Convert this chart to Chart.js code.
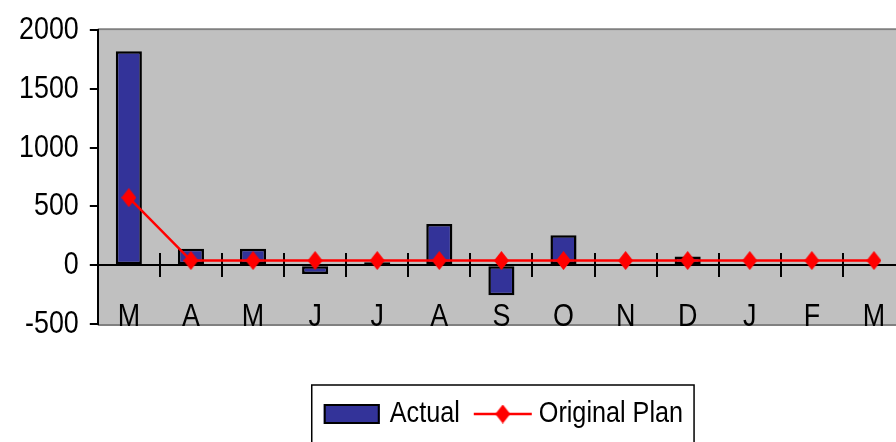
<!DOCTYPE html>
<html>
<head>
<meta charset="utf-8">
<script src="https://cdn.jsdelivr.net/npm/chart.js@4/dist/chart.umd.min.js"></script>
<style>
  html, body { margin: 0; padding: 0; background: #ffffff; overflow: hidden; }
  #wrap { width: 906px; height: 442px; }
</style>
</head>
<body>
<div id="wrap"><canvas id="chart" width="906" height="442"></canvas></div>
<script>
// Monthly figures, March through March
const months = ['M', 'A', 'M', 'J', 'J', 'A', 'S', 'O', 'N', 'D', 'J', 'F', 'M'];
const actual = [1820, 140, 140, -75, 25, 350, -255, 255, 0, 75, 0, 0, 0];
const originalPlan = [575, 40, 40, 40, 40, 40, 40, 40, 40, 40, 40, 40, 40];
const yTicks = [-500, 0, 500, 1000, 1500, 2000];
const seriesNames = ['Actual', 'Original Plan'];

const FONT = '"Liberation Sans", Arial, sans-serif';
const BAR_FILL = '#333399';
const PLAN_RED = '#ff0000';
const NARROW = 0.84; // horizontal squeeze for a narrow sans look

const canvas = document.getElementById('chart');
const ctx2d = canvas.getContext('2d');

// Narrow text: squeeze glyphs horizontally around their anchor point,
// and report the matching width so layout stays consistent.
(function (c) {
  const fill = c.fillText.bind(c);
  const measure = c.measureText.bind(c);
  c.fillText = function (text, x, y, maxWidth) {
    c.save();
    c.translate(x, y);
    c.scale(NARROW, 1);
    if (maxWidth !== undefined) fill(text, 0, 0, maxWidth / NARROW);
    else fill(text, 0, 0);
    c.restore();
  };
  c.measureText = function (text) {
    const m = measure(text);
    return {
      width: m.width * NARROW,
      actualBoundingBoxLeft: m.actualBoundingBoxLeft * NARROW,
      actualBoundingBoxRight: m.actualBoundingBoxRight * NARROW,
      actualBoundingBoxAscent: m.actualBoundingBoxAscent,
      actualBoundingBoxDescent: m.actualBoundingBoxDescent,
      fontBoundingBoxAscent: m.fontBoundingBoxAscent,
      fontBoundingBoxDescent: m.fontBoundingBoxDescent
    };
  };
})(ctx2d);

// Diamond marker used for the plan line
const diamond = document.createElement('canvas');
diamond.width = 15;
diamond.height = 19;
(function () {
  const g = diamond.getContext('2d');
  g.fillStyle = PLAN_RED;
  g.beginPath();
  g.moveTo(7.5, 0);
  g.lineTo(15, 9.5);
  g.lineTo(7.5, 19);
  g.lineTo(0, 9.5);
  g.closePath();
  g.fill();
})();

// Grey plot area with darker top/bottom edges
const plotBackground = {
  id: 'plotBackground',
  beforeDraw(chart) {
    const { ctx, chartArea: a } = chart;
    ctx.save();
    ctx.fillStyle = '#c0c0c0';
    ctx.fillRect(a.left, a.top, a.right - a.left, a.bottom - a.top);
    ctx.strokeStyle = '#808080';
    ctx.lineWidth = 2;
    ctx.beginPath();
    ctx.moveTo(a.left, a.top - 1);
    ctx.lineTo(a.right, a.top - 1);
    ctx.moveTo(a.left, a.bottom + 1);
    ctx.lineTo(a.right, a.bottom + 1);
    ctx.stroke();
    ctx.restore();
  }
};

// Framed legend below the plot
const framedLegend = {
  id: 'framedLegend',
  afterDraw(chart) {
    const { ctx, chartArea: a } = chart;
    const ds = chart.data.datasets;
    ctx.save();
    ctx.font = '30px ' + FONT;
    ctx.textBaseline = 'middle';
    ctx.textAlign = 'left';
    const w1 = ctx.measureText(ds[0].label).width;
    const w2 = ctx.measureText(ds[1].label).width;
    const boxW = 56, lineW = 58;
    const total = boxW + 10 + w1 + 14 + lineW + 7 + w2;
    const cx = (a.left + a.right) / 2 + 2;
    const cy = a.bottom + 90;
    let x = cx - total / 2;

    ctx.strokeStyle = '#000';
    ctx.lineWidth = 1.5;
    ctx.strokeRect(x - 12, a.bottom + 61, total + 23, 120);

    ctx.fillStyle = BAR_FILL;
    ctx.fillRect(x, cy - 10, boxW, 20);
    ctx.lineWidth = 2;
    ctx.strokeRect(x + 1, cy - 9, boxW - 2, 18);
    x += boxW + 10;
    ctx.fillStyle = '#000';
    ctx.fillText(ds[0].label, x, cy);
    x += w1 + 14;

    ctx.strokeStyle = PLAN_RED;
    ctx.lineWidth = 2.5;
    ctx.beginPath();
    ctx.moveTo(x, cy);
    ctx.lineTo(x + lineW, cy);
    ctx.stroke();
    ctx.drawImage(diamond, x + lineW / 2 - diamond.width / 2, cy - diamond.height / 2);
    x += lineW + 7;
    ctx.fillStyle = '#000';
    ctx.fillText(ds[1].label, x, cy);
    ctx.restore();
  }
};

new Chart(ctx2d, {
  type: 'bar',
  data: {
    labels: months,
    datasets: [
      {
        type: 'bar',
        label: seriesNames[0],
        data: actual,
        backgroundColor: BAR_FILL,
        borderColor: '#000',
        borderWidth: 2.5,
        borderSkipped: false,
        barPercentage: 0.42,
        categoryPercentage: 1.0,
        order: 1
      },
      {
        type: 'line',
        label: seriesNames[1],
        data: originalPlan,
        borderColor: PLAN_RED,
        borderWidth: 2.5,
        tension: 0,
        fill: false,
        pointStyle: diamond,
        pointRadius: 9,
        order: 0
      }
    ]
  },
  options: {
    responsive: false,
    animation: false,
    devicePixelRatio: 1,
    layout: { autoPadding: false, padding: { top: 28, left: 8, right: 1, bottom: 118 } },
    plugins: {
      legend: { display: false },
      tooltip: { enabled: false }
    },
    scales: {
      x: {
        type: 'category',
        position: { y: 100 },
        offset: true,
        afterFit(scale) {
          // labels sit inside their slots; no side overhang to reserve
          scale.paddingLeft = 0;
          scale.paddingRight = 0;
        },
        grid: {
          display: true,
          offset: true,
          drawOnChartArea: false,
          drawTicks: true,
          tickLength: 24,
          color: '#000',
          lineWidth: 2
        },
        border: { display: false },
        ticks: {
          padding: 20,
          color: '#000',
          font: { family: FONT, size: 32 },
          maxRotation: 0,
          autoSkip: false
        }
      },
      y: {
        position: 'left',
        min: yTicks[0],
        max: yTicks[yTicks.length - 1],
        afterBuildTicks(scale) {
          scale.ticks = yTicks.map(v => ({ value: v }));
        },
        grid: {
          drawOnChartArea: true,
          drawTicks: true,
          tickLength: 8,
          lineWidth: 2,
          color: c => (c.tick && c.tick.value === 0 ? '#000' : 'rgba(0,0,0,0)'),
          tickColor: '#000'
        },
        border: { display: true, color: '#000', width: 2 },
        ticks: {
          padding: 11,
          color: '#000',
          font: { family: FONT, size: 32 },
          callback: v => String(v)
        }
      }
    }
  },
  plugins: [plotBackground, framedLegend]
});
</script>
</body>
</html>
